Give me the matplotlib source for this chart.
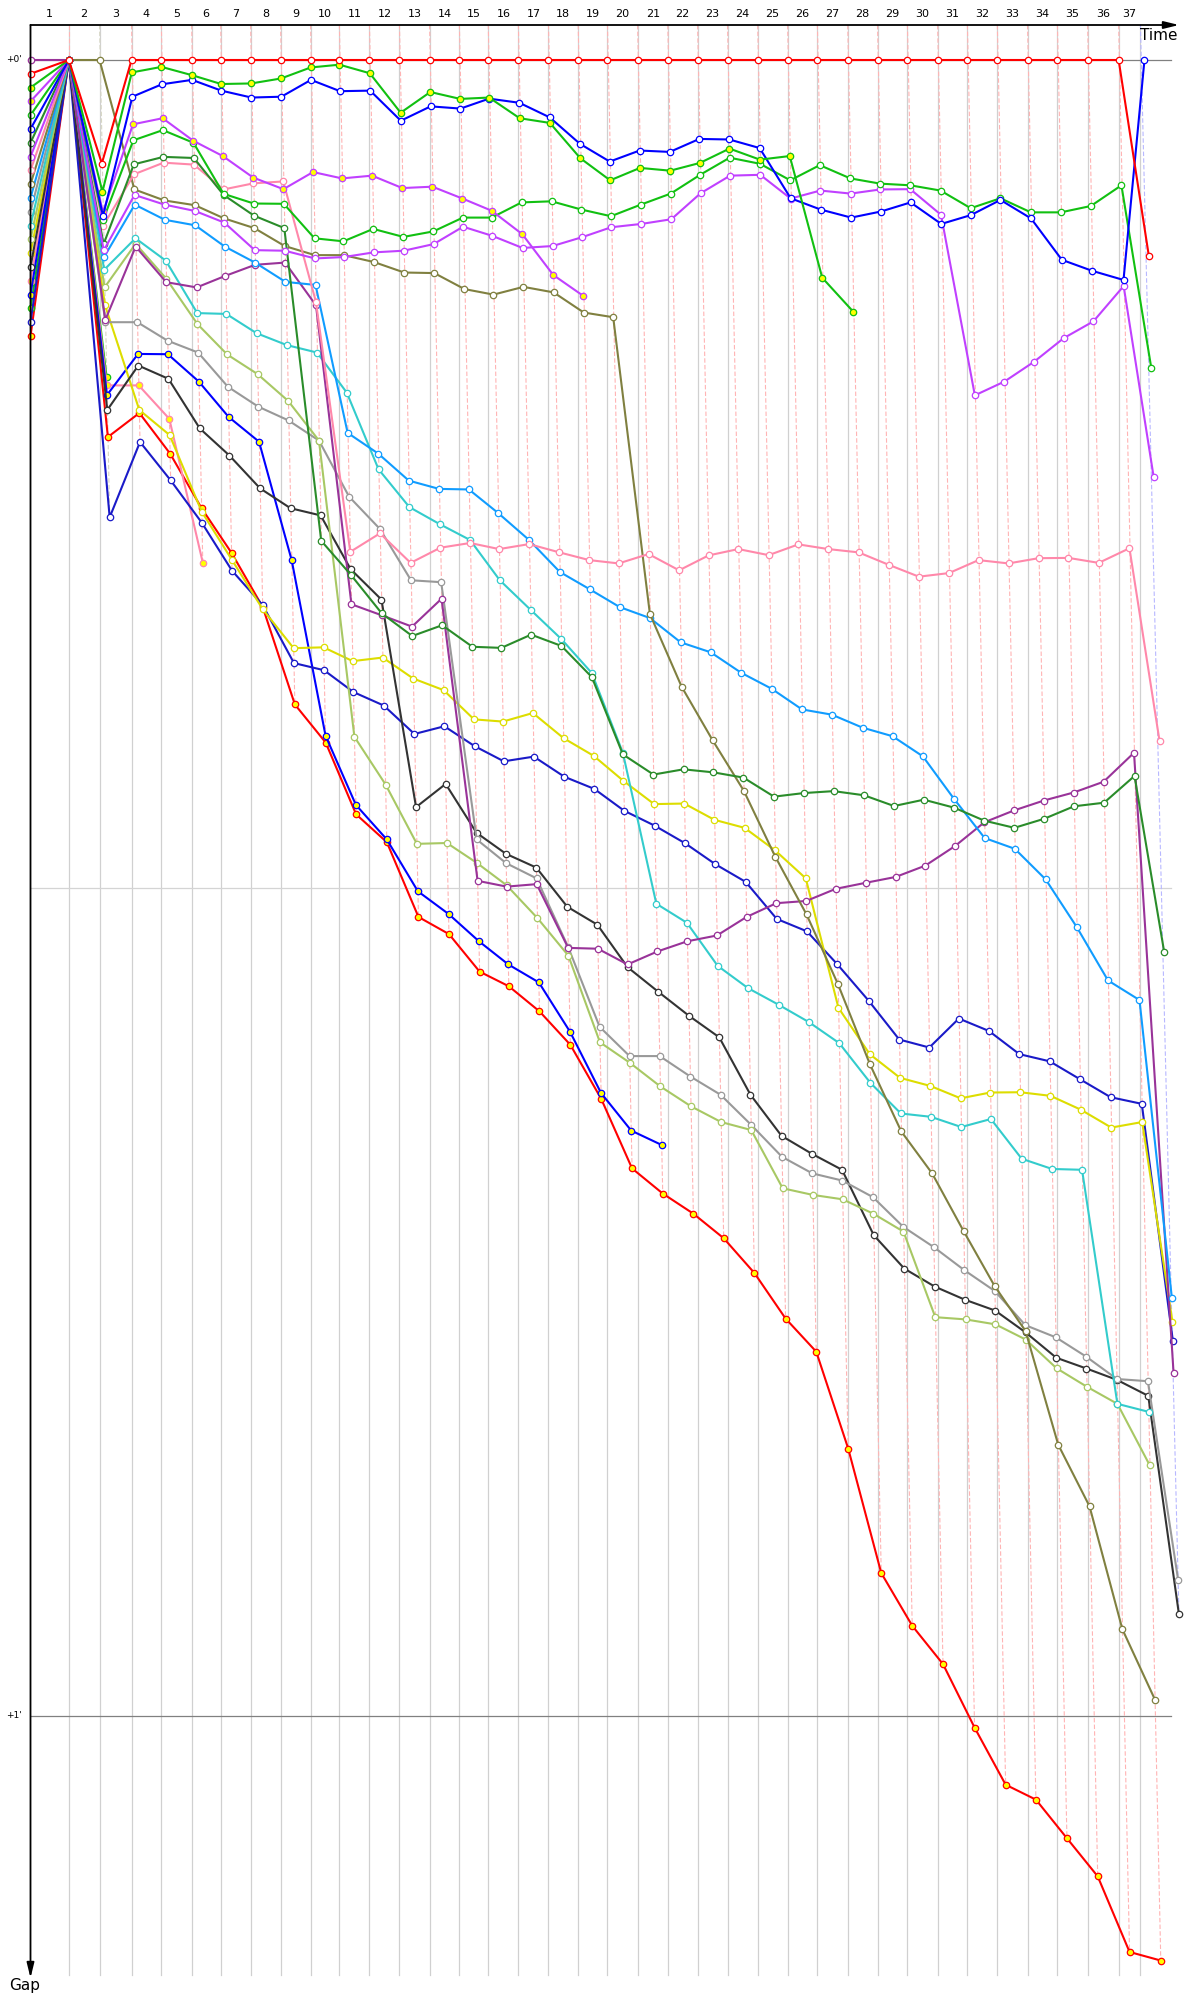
import numpy as np
import matplotlib
matplotlib.use("Agg")
import matplotlib.pyplot as plt

nan = float("nan")

# ===================== DATA =====================
# leader lap durations (s) for laps 1..37
lap_secs = [62.6, 50.2, 52.3, 48.7, 49.5, 47.4, 48.9, 49.0, 49.0, 47.1,
            49.2, 49.0, 49.2, 48.7, 47.2, 49.2, 49.2, 48.5, 47.9, 49.2,
            49.3, 48.7, 48.9, 49.3, 48.9, 48.7, 49.5, 48.7, 48.9, 49.3,
            48.7, 48.9, 49.3, 48.9, 49.3, 50.7, 42.2]
flag_after_lap36 = 35.6          # last grey line, s after lap 36
lap_labels = [str(i) for i in range(1, 38)]
gap_ticks = [0, 60]
gap_tick_labels = ["+0'", "+1'"]

# gaps to leader (s): index 0 = grid, then end of laps 1..37
red_leader = [0.5, 0, 3.75, 0, 0, 0, 0, 0, 0, 0, 0, 0, 0, 0, 0, 0, 0, 0, 0, 0,
              0, 0, 0, 0, 0, 0, 0, 0, 0, 0, 0, 0, 0, 0, 0, 0, 0, 7.09]
green_y = [1.0, 0, 4.77, 0.45, 0.25, 0.55, 0.87, 0.85, 0.67, 0.27, 0.17, 0.48,
           1.91, 1.16, 1.41, 1.36, 2.11, 2.28, 3.56, 4.36, 3.91, 4.01, 3.73,
           3.21, 3.61, 3.48, 7.89, 9.12, nan, nan, nan, nan, nan, nan, nan,
           nan, nan, nan]
blue = [2.5, 0, 5.65, 1.33, 0.88, 0.72, 1.11, 1.36, 1.33, 0.72, 1.13, 1.11,
        2.2, 1.68, 1.76, 1.4, 1.55, 2.08, 3.04, 3.68, 3.28, 3.33, 2.86, 2.88,
        3.19, 5.01, 5.42, 5.71, 5.49, 5.16, 5.94, 5.62, 5.07, 5.74, 7.24,
        7.64, 7.97, 0.0]
violet_y = [1.5, 0, 5.52, 2.33, 2.11, 2.93, 3.48, 4.26, 4.68, 4.06, 4.29, 4.19,
            4.64, 4.59, 5.02, 5.46, 6.31, 7.79, 8.55, nan, nan, nan, nan, nan,
            nan, nan, nan, nan, nan, nan, nan, nan, nan, nan, nan, nan, nan, nan]
green = [2.0, 0, 5.8, 2.91, 2.54, 3.0, 4.85, 5.2, 5.21, 6.46, 6.57, 6.12,
         6.41, 6.21, 5.71, 5.71, 5.16, 5.12, 5.42, 5.66, 5.24, 4.84, 4.16,
         3.54, 3.76, 4.36, 3.81, 4.29, 4.48, 4.54, 4.73, 5.37, 5.01, 5.52,
         5.52, 5.29, 4.54, 11.16]
violet = [3.5, 0, 6.9, 4.89, 5.24, 5.47, 5.89, 6.89, 6.91, 7.19, 7.14, 6.97,
          6.91, 6.67, 6.04, 6.37, 6.81, 6.74, 6.42, 6.06, 5.94, 5.77, 4.83,
          4.19, 4.16, 5.02, 4.73, 4.84, 4.69, 4.68, 5.61, 12.15, 11.65, 10.93,
          10.08, 9.47, 8.19, 15.12]
dkgreen = [3.0, 0, 6.67, 3.78, 3.51, 3.55, 4.89, 5.64, 6.09, 17.42, 18.65,
           20.05, 20.87, 20.48, 21.26, 21.3, 20.82, 21.23, 22.36, 25.16, 25.89,
           25.7, 25.81, 26.0, 26.69, 26.56, 26.49, 26.64, 27.03, 26.8, 27.09,
           27.56, 27.82, 27.49, 27.04, 26.91, 25.94, 32.33]
pink = [4.0, 0, 6.0, 4.14, 3.72, 3.79, 4.69, 4.47, 4.4, 8.76, 17.82, 17.15,
        18.22, 17.67, 17.5, 17.72, 17.54, 17.84, 18.12, 18.24, 17.9, 18.49,
        17.95, 17.72, 17.94, 17.55, 17.72, 17.84, 18.29, 18.72, 18.59, 18.12,
        18.24, 18.05, 18.04, 18.22, 17.69, 24.68]
olive = [4.5, 0, 0, 4.69, 5.09, 5.26, 5.74, 6.09, 6.74, 7.07, 7.07, 7.32, 7.7,
         7.72, 8.3, 8.5, 8.22, 8.42, 9.15, 9.32, 20.07, 22.71, 24.65, 26.47,
         28.87, 30.96, 33.48, 36.39, 38.82, 40.34, 42.43, 44.42, 46.05, 50.17,
         52.4, 56.86, 59.41, nan]
lblue = [5.0, 0, 7.15, 5.24, 5.79, 5.99, 6.76, 7.34, 8.04, 8.15, 13.51, 14.26,
         15.24, 15.54, 15.56, 16.42, 17.39, 18.55, 19.18, 19.82, 20.22, 21.1,
         21.46, 22.2, 22.78, 23.53, 23.72, 24.19, 24.5, 25.23, 26.77, 28.19,
         28.58, 29.69, 31.41, 33.35, 34.06, 44.87]
purple = [0.0, 0, 9.42, 6.76, 8.05, 8.24, 7.82, 7.42, 7.34, 8.89, 19.72, 20.12,
          20.53, 19.52, 29.74, 29.95, 29.86, 32.17, 32.2, 32.77, 32.3, 31.93,
          31.72, 31.05, 30.55, 30.47, 30.03, 29.81, 29.6, 29.19, 28.48, 27.62,
          27.19, 26.83, 26.54, 26.15, 25.1, 47.58]
turq = [6.0, 0, 7.6, 6.46, 7.27, 9.17, 9.2, 9.9, 10.33, 10.6, 12.05, 14.83,
        16.2, 16.82, 17.39, 18.85, 19.92, 20.98, 22.21, 25.1, 30.57, 31.26,
        32.82, 33.63, 34.23, 34.86, 35.62, 37.06, 38.17, 38.29, 38.66, 38.37,
        39.81, 40.18, 40.21, 48.69, 48.98, nan]
ygreen = [6.5, 0, 8.24, 6.66, 7.92, 9.57, 10.67, 11.38, 12.35, 13.79, 24.52,
          26.25, 28.4, 28.37, 29.1, 29.9, 31.09, 32.45, 35.59, 36.33, 37.19,
          37.91, 38.48, 38.77, 40.88, 41.12, 41.28, 41.8, 42.45, 45.55, 45.63,
          45.81, 46.36, 47.4, 48.07, 48.69, 50.92, nan]
gray = [5.5, 0, 9.5, 9.5, 10.17, 10.6, 11.84, 12.56, 13.06, 13.79, 15.82,
        16.99, 18.85, 18.92, 28.24, 29.1, 29.65, 32.14, 35.03, 36.09, 36.09,
        36.83, 37.49, 38.58, 39.74, 40.34, 40.6, 41.2, 42.28, 43.01, 43.85,
        44.6, 45.84, 46.28, 46.98, 47.79, 47.87, 55.08]
black = [7.5, 0, 12.68, 11.07, 11.55, 13.35, 14.33, 15.52, 16.24, 16.5, 18.45,
         19.55, 27.07, 26.23, 28.0, 28.76, 29.26, 30.68, 31.33, 32.87, 33.76,
         34.63, 35.41, 37.49, 38.98, 39.63, 40.21, 42.58, 43.79, 44.44, 44.92,
         45.31, 46.1, 47.02, 47.41, 47.82, 48.4, 56.31]
yellow = [7.0, 0, 8.88, 12.68, 13.59, 16.36, 18.1, 19.9, 21.31, 21.28, 21.78,
          21.65, 22.41, 22.83, 23.89, 23.97, 23.66, 24.57, 25.21, 26.12, 26.96,
          26.94, 27.53, 27.82, 28.64, 29.65, 34.34, 36.02, 36.88, 37.17, 37.62,
          37.41, 37.4, 37.53, 38.03, 38.68, 38.48, 45.71]
navy = [9.5, 0, 16.57, 13.84, 15.23, 16.77, 18.5, 19.75, 21.85, 22.11, 22.9,
        23.39, 24.42, 24.14, 24.86, 25.41, 25.24, 25.97, 26.41, 27.2, 27.74,
        28.38, 29.14, 29.78, 31.12, 31.57, 32.77, 34.08, 35.49, 35.78, 34.73,
        35.18, 36.02, 36.28, 36.93, 37.58, 37.82, 46.41]
red_y = [10.0, 0, 13.66, 12.79, 14.26, 16.24, 17.86, 19.82, 23.35, 24.73,
         27.33, 28.34, 31.05, 31.67, 33.03, 33.56, 34.47, 35.68, 37.64, 40.16,
         41.07, 41.8, 42.69, 43.95, 45.6, 46.8, 50.31, 54.82, 56.73, 58.12,
         60.42, 62.49, 63.03, 64.43, 65.81, 68.55, 68.86, nan]
blue_y = [8.5, 0, 12.14, 10.65, 10.66, 11.65, 12.93, 13.83, 18.12, 24.48,
          26.99, 28.24, 30.12, 30.94, 31.93, 32.77, 33.42, 35.21, 37.43, 38.79,
          39.31, nan, nan, nan, nan, nan, nan, nan, nan, nan, nan, nan, nan,
          nan, nan, nan, nan, nan]
pink_y = [8.0, 0, 11.79, 11.79, 13.0, 18.21] + [nan] * 32
green_y2 = [9.0, 0, 11.5] + [nan] * 35

# (values, line colour, marker face)
series = [
    (red_y, "#ff0000", "#ffff00"), (green_y2, "#11c011", "#ffff00"),
    (pink_y, "#ff88aa", "#ffff00"), (blue_y, "#0000ff", "#ffff00"),
    (navy, "#1a1ac8", "white"), (yellow, "#dddd00", "white"),
    (black, "#333333", "white"), (gray, "#999999", "white"),
    (ygreen, "#a8c864", "white"), (turq, "#33cccc", "white"),
    (purple, "#993399", "white"), (lblue, "#109cff", "white"),
    (olive, "#808040", "white"), (pink, "#ff88aa", "white"),
    (dkgreen, "#2a8c2a", "white"), (violet, "#c040ff", "white"),
    (green, "#11c011", "white"), (violet_y, "#c040ff", "#ffff00"),
    (blue, "#0000ff", "white"), (green_y, "#11c011", "#ffff00"),
    (red_leader, "#ff0000", "white"),
]

# ===================== GEOMETRY =====================
PX_X, PX_Y = 0.612, 27.6        # pixels per second (x, y)
X0, Y0 = 30.5, 60.0             # pixel position of t=0 / gap=0
def dx(px): return (px - X0) / PX_X
def dy(px): return (px - Y0) / PX_Y

T = np.concatenate([[0.0], np.cumsum(lap_secs)])
grid_x = list(T[1:37]) + [T[36] + flag_after_lap36]

fig = plt.figure(figsize=(12, 20), dpi=100)
ax = fig.add_axes([0, 0, 1, 1])
ax.set_xlim(dx(0), dx(1200))
ax.set_ylim(dy(2000), dy(0))
ax.axis("off")

top, bottom = dy(25), dy(1975)
x_end = dx(1171)

# vertical lap lines
for gx in grid_x:
    ax.plot([gx, gx], [top, bottom], color="#d0d0d0", lw=0.9, zorder=0)

# horizontal gap lines
ax.plot([0, x_end], [30, 30], color="#d4d4d4", lw=0.9, zorder=0)
for g in gap_ticks:
    ax.plot([0, x_end], [g, g], color="#808080", lw=0.9, zorder=0)

# dashed "time lines" per lap
all_g = np.array([s[0] for s in series], dtype=float)
for k in range(1, 38):
    gmax = np.nanmax(all_g[:, k])
    col = "#ffb4b4"
    if k == 2:
        col = "#d6d6c4"
    if k == 37:
        col = "#b8b8ff"
    ax.plot([grid_x[k - 1], T[k] + gmax], [top, gmax], color=col, lw=0.8,
            ls=(0, (4, 2)), zorder=1)

# driver lines
for i, (vals, col, face) in enumerate(series):
    g = np.array(vals, dtype=float)
    x = T + g
    x[0] = T[0]
    ax.plot(x, g, color=col, lw=1.5, marker="o", ms=4.6, mfc=face, mec=col,
            mew=0.9, zorder=2 + i * 0.01)

# axes with arrows
arrow = dict(arrowstyle="-|>,head_length=0.9,head_width=0.22",
             mutation_scale=10, lw=1.3, color="black", shrinkA=0, shrinkB=0)
ax.annotate("", xy=(dx(1179), top), xytext=(0, top), arrowprops=arrow,
            zorder=5)
ax.annotate("", xy=(0, dy(1978)), xytext=(0, top), arrowprops=arrow,
            zorder=5)

# labels
prev = [0.0] + grid_x[:-1]
for lbl, a, b in zip(lap_labels, prev, grid_x):
    ax.text((a + b) / 2, dy(14), lbl, ha="center", va="center", fontsize=8,
            family="DejaVu Sans")
for g, lbl in zip(gap_ticks, gap_tick_labels):
    ax.text(dx(22), g, lbl, ha="right", va="center", fontsize=6.5,
            family="DejaVu Sans")
ax.text(dx(1177), dy(35), "Time", ha="right", va="center", fontsize=11,
        family="DejaVu Sans")
ax.text(dx(25), dy(1986), "Gap", ha="center", va="center", fontsize=11,
        family="DejaVu Sans")

fig.savefig("out.png", dpi=100)
